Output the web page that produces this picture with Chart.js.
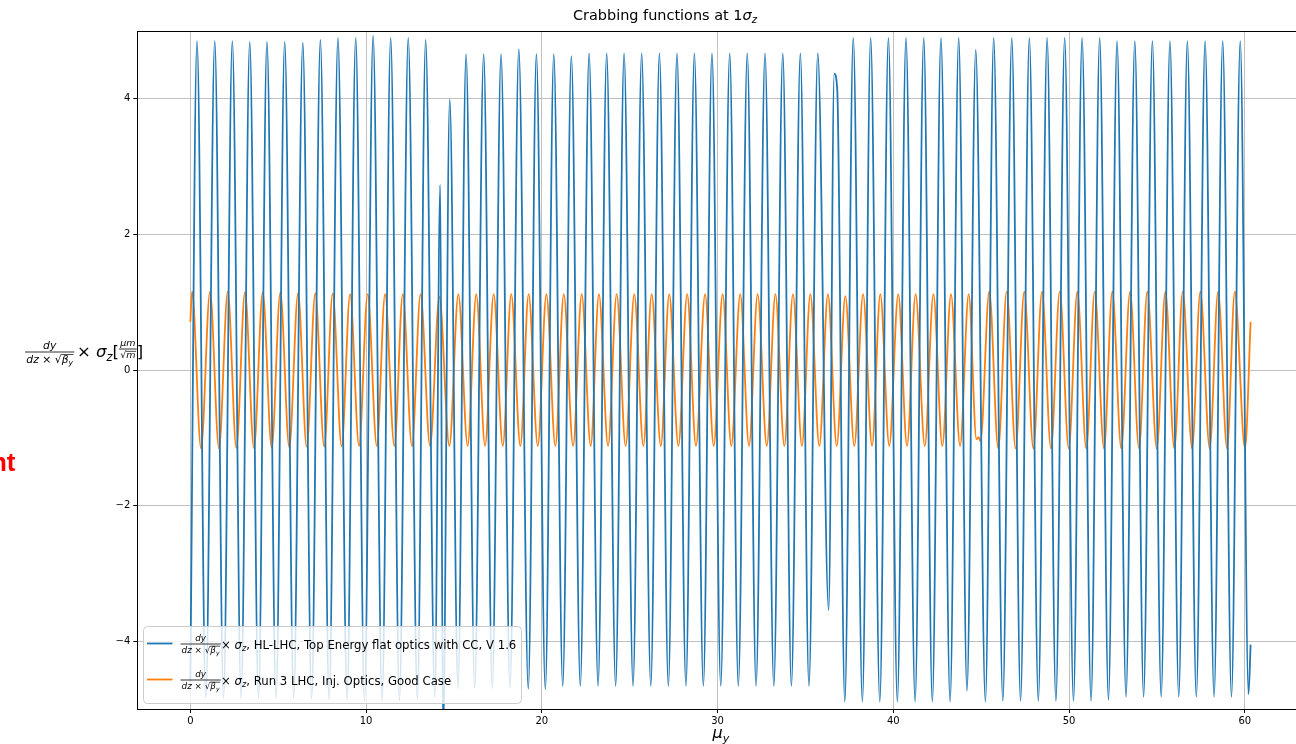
<!DOCTYPE html>
<html><head><meta charset="utf-8">
<script src="https://cdn.jsdelivr.net/npm/chart.js@4.4.1/dist/chart.umd.min.js"></script>
<style>html,body{margin:0;padding:0;background:#fff;overflow:hidden;width:1296px;height:744px}canvas{display:block}</style>
</head><body>
<canvas id="c" width="1310" height="744"></canvas>
<script>
// ---- data (extrema of each oscillation) ----
const blueMu = [
 0, 0.38, 0.88, 1.39, 1.89, 2.39, 2.89, 3.38, 3.88, 4.36,
 4.88, 5.37, 5.88, 6.40, 6.90, 7.40, 7.90, 8.40, 8.92, 9.41,
 9.91, 10.40, 10.91, 11.40, 11.90, 12.40, 12.92, 13.39, 13.91, 14.22,
 14.38, 14.76, 15.23, 15.69, 16.18, 16.69, 17.18, 17.68, 18.19, 18.69,
 19.23, 19.69, 20.20, 20.68, 21.19, 21.68, 22.19, 22.69, 23.20, 23.69,
 24.20, 24.68, 25.19, 25.68, 26.20, 26.69, 27.20, 27.69, 28.20, 28.68,
 29.19, 29.68, 30.18, 30.69, 31.18, 31.69, 32.19, 32.70, 33.20, 33.71,
 34.20, 34.71, 35.20, 35.70, 36.32, 36.64, 36.81, 37.24, 37.72, 38.24,
 38.71, 39.23, 39.72, 40.23, 40.72, 41.24, 41.73, 42.22, 42.71, 43.23,
 43.72, 44.19, 44.69, 45.24, 45.71, 46.23, 46.74, 47.24, 47.74, 48.25,
 48.75, 49.25, 49.75, 50.25, 50.74, 51.25, 51.74, 52.24, 52.73, 53.24,
 53.74, 54.24, 54.74, 55.24, 55.74, 56.24, 56.73, 57.24, 57.74, 58.25,
 58.74, 59.24, 59.74, 60.21, 60.33
];
const blueVal = [
 -4.6, 4.85, -4.84, 4.85, -4.84, 4.85, -4.84, 4.84, -4.84, 4.84,
 -4.84, 4.84, -4.84, 4.83, -4.85, 4.87, -4.86, 4.90, -4.87, 4.90,
 -4.88, 4.93, -4.88, 4.90, -4.87, 4.90, -4.86, 4.87, -4.82, 2.73,
 -5.4, 3.99, -4.70, 4.66, -4.69, 4.66, -4.69, 4.66, -4.69, 4.73,
 -4.70, 4.66, -4.71, 4.66, -4.66, 4.63, -4.66, 4.67, -4.66, 4.67,
 -4.66, 4.67, -4.66, 4.67, -4.66, 4.67, -4.66, 4.67, -4.66, 4.67,
 -4.66, 4.67, -4.66, 4.67, -4.66, 4.67, -4.66, 4.67, -4.66, 4.67,
 -4.66, 4.67, -4.66, 4.67, -3.54, 4.37, 4.13, -4.89, 4.90, -4.89,
 4.90, -4.89, 4.90, -4.89, 4.90, -4.89, 4.90, -4.89, 4.90, -4.89,
 4.90, -4.73, 4.72, -4.89, 4.90, -4.88, 4.90, -4.88, 4.90, -4.88,
 4.90, -4.88, 4.90, -4.88, 4.90, -4.88, 4.90, -4.86, 4.85, -4.82,
 4.85, -4.82, 4.85, -4.82, 4.85, -4.82, 4.85, -4.82, 4.85, -4.82,
 4.85, -4.82, 4.85, -4.78, -4.05
];
const orangeMu = [
 0, 0.10, 0.61, 1.12, 1.63, 2.13, 2.62, 3.11, 3.62, 4.12,
 4.63, 5.12, 5.63, 6.13, 6.62, 7.11, 7.62, 8.10, 8.61, 9.09,
 9.60, 10.09, 10.61, 11.08, 11.61, 12.09, 12.61, 13.10, 13.64, 14.17,
 14.74, 15.25, 15.78, 16.27, 16.77, 17.26, 17.78, 18.26, 18.78, 19.25,
 19.77, 20.26, 20.77, 21.25, 21.78, 22.27, 22.78, 23.25, 23.77, 24.26,
 24.77, 25.26, 25.78, 26.25, 26.77, 27.25, 27.77, 28.27, 28.77, 29.29,
 29.78, 30.29, 30.78, 31.29, 31.79, 32.28, 32.80, 33.29, 33.80, 34.29,
 34.80, 35.28, 35.79, 36.28, 36.78, 37.27, 37.78, 38.28, 38.79, 39.26,
 39.77, 40.28, 40.78, 41.27, 41.79, 42.28, 42.79, 43.28, 43.80, 44.29,
 44.73, 44.85, 44.96, 45.46, 45.97, 46.45, 46.96, 47.45, 47.97, 48.46,
 48.97, 49.47, 49.98, 50.47, 50.98, 51.46, 51.99, 52.46, 52.97, 53.47,
 53.98, 54.45, 54.99, 55.48, 55.99, 56.47, 57.00, 57.47, 58.00, 58.48,
 58.99, 59.43, 60.01, 60.33
];
const orangeVal = [
 0.71, 1.156, -1.156, 1.156, -1.156, 1.155, -1.15, 1.15, -1.15, 1.145,
 -1.145, 1.14, -1.14, 1.135, -1.13, 1.13, -1.13, 1.125, -1.125, 1.12,
 -1.12, 1.12, -1.12, 1.12, -1.12, 1.12, -1.12, 1.12, -1.12, 1.08,
 -1.12, 1.12, -1.12, 1.12, -1.12, 1.12, -1.12, 1.12, -1.12, 1.12,
 -1.12, 1.12, -1.12, 1.12, -1.12, 1.12, -1.12, 1.12, -1.12, 1.12,
 -1.12, 1.12, -1.12, 1.12, -1.12, 1.12, -1.12, 1.12, -1.12, 1.12,
 -1.12, 1.12, -1.12, 1.12, -1.12, 1.12, -1.12, 1.12, -1.12, 1.12,
 -1.12, 1.12, -1.12, 1.12, -1.12, 1.09, -1.12, 1.12, -1.12, 1.12,
 -1.12, 1.12, -1.12, 1.12, -1.12, 1.12, -1.12, 1.12, -1.12, 1.12,
 -1.02, -0.99, -1.05, 1.16, -1.156, 1.156, -1.156, 1.156, -1.156, 1.156,
 -1.156, 1.156, -1.156, 1.156, -1.156, 1.156, -1.156, 1.156, -1.156, 1.156,
 -1.156, 1.156, -1.156, 1.156, -1.156, 1.156, -1.156, 1.156, -1.156, 1.156,
 -1.156, 1.156, -1.156, 0.71
];
const xTicks = [0, 10, 20, 30, 40, 50, 60];
const xTickLabels = ['0', '10', '20', '30', '40', '50', '60'];
const yTicks = [-4, -2, 0, 2, 4];
const yTickLabels = ['\u22124', '\u22122', '0', '2', '4'];
const seriesNames = ['HL-LHC, Top Energy flat optics with CC, V 1.6', 'Run 3 LHC, Inj. Optics, Good Case'];
const seriesColors = ['#1f77b4', '#ff7f0e'];
const titleText = 'Crabbing functions at 1';

// ---- math-ish text helpers ----
const FF = '"DejaVu Sans", sans-serif';
function fnt(size, it) { return (it ? 'oblique ' : '') + size + 'px ' + FF; }
function runs(ctx, x, y, list, size, dry) {
  for (const r of list) {
    if (r.sqrt) {
      ctx.font = fnt(size, false);
      const sw = ctx.measureText('\u221A').width;
      if (!dry) ctx.fillText('\u221A', x, y);
      const ix = x + sw;
      const ex = runs(ctx, ix, y, r.sqrt, size, dry);
      if (!dry) ctx.fillRect(ix - 0.3, y - size * 0.78, ex - ix + 0.8, Math.max(0.7, size * 0.06));
      x = ex;
      continue;
    }
    const s = r.sub ? size * 0.7 : size;
    ctx.font = fnt(s, r.it);
    if (!dry) ctx.fillText(r.t, x, y + (r.sub ? size * 0.22 : 0));
    x += ctx.measureText(r.t).width;
  }
  return x;
}
function frac(ctx, x, barY, num, den, size, dry) {
  const wn = runs(ctx, 0, 0, num, size, true);
  const wd = runs(ctx, 0, 0, den, size, true);
  const w = Math.max(wn, wd) + size * 0.25;
  if (!dry) {
    runs(ctx, x + (w - wn) / 2, barY - size * 0.32, num, size);
    runs(ctx, x + (w - wd) / 2, barY + size * 0.98, den, size);
    ctx.fillRect(x, barY - 0.4, w, 0.8);
  }
  return x + w;
}
const NUM = [{t: 'dy', it: 1}];
const DEN = [{t: 'dz', it: 1}, {t: ' \u00D7 '}, {sqrt: [{t: '\u03B2', it: 1}, {t: 'y', it: 1, sub: 1}]}];

const textPlugin = {
  id: 'texts',
  afterDraw(chart) {
    const ctx = chart.ctx;
    const a = chart.chartArea;
    ctx.save();
    // spines
    ctx.strokeStyle = '#000';
    ctx.lineWidth = 1;
    ctx.strokeRect(Math.round(a.left) + 0.5, Math.round(a.top) + 0.5, Math.round(a.right - a.left), Math.round(a.bottom - a.top));
    ctx.fillStyle = '#000';
    ctx.textBaseline = 'alphabetic';
    ctx.textAlign = 'left';
    // title
    const tRuns = [{t: titleText}, {t: '\u03C3', it: 1}, {t: 'z', it: 1, sub: 1}];
    let ts = 14;
    const tw = runs(ctx, 0, 0, tRuns, ts, true);
    ts = ts * 184 / tw;
    runs(ctx, 573, 20, tRuns, ts);
    // x label
    runs(ctx, 712.5, 738, [{t: '\u03BC', it: 1}, {t: 'y', it: 1, sub: 1}], 16);
    // y label
    frac(ctx, 25, 352, NUM, DEN, 10.8);
    let yx = runs(ctx, 77, 357, [{t: '\u00D7 '}, {t: '\u03C3', it: 1}, {t: 'z', it: 1, sub: 1}, {t: '['}], 16.5);
    yx = frac(ctx, yx, 349, [{t: '\u03BCm', it: 1}], [{sqrt: [{t: 'm', it: 1}]}], 9.5);
    runs(ctx, yx, 357, [{t: ']'}], 16.5);
    // legend
    const lx = 143.5, ly = 626.5, lw = 378, lh = 77, rr = 4;
    ctx.beginPath();
    ctx.moveTo(lx + rr, ly);
    ctx.arcTo(lx + lw, ly, lx + lw, ly + lh, rr);
    ctx.arcTo(lx + lw, ly + lh, lx, ly + lh, rr);
    ctx.arcTo(lx, ly + lh, lx, ly, rr);
    ctx.arcTo(lx, ly, lx + lw, ly, rr);
    ctx.closePath();
    ctx.fillStyle = 'rgba(255,255,255,0.8)';
    ctx.fill();
    ctx.strokeStyle = '#cccccc';
    ctx.lineWidth = 1;
    ctx.stroke();
    const rowsY = [643.5, 679.5];
    const entryRuns = seriesNames.map(n => [{t: '\u00D7 '}, {t: '\u03C3', it: 1}, {t: 'z', it: 1, sub: 1}, {t: ', ' + n}]);
    let ls = 13;
    const lwid = runs(ctx, 0, 0, entryRuns[0], ls, true);
    ls = ls * (516.7 - 221) / lwid;
    rowsY.forEach((yy, i) => {
      ctx.strokeStyle = seriesColors[i];
      ctx.lineWidth = 1.8;
      ctx.beginPath();
      ctx.moveTo(147, yy);
      ctx.lineTo(172.5, yy);
      ctx.stroke();
      ctx.fillStyle = '#000';
      frac(ctx, 180.5, yy + 0.5, NUM, DEN, 8.8);
      runs(ctx, 221, yy + 5, entryRuns[i], ls);
    });
    // stray red text at the far left
    ctx.fillStyle = '#ff0000';
    ctx.font = 'bold 26px "Liberation Sans", Arial, sans-serif';
    ctx.textAlign = 'right';
    ctx.fillText('nt', 15.5, 470.5);
    ctx.restore();
  }
};

const tickFont = {family: '"DejaVu Sans", sans-serif', size: 10};
new Chart(document.getElementById('c').getContext('2d'), {
  type: 'line',
  data: {
    datasets: [
      {data: blueMu.map((x, i) => ({x: x, y: blueVal[i]})), borderColor: seriesColors[0], borderWidth: 1.8,
       pointRadius: 0, cubicInterpolationMode: 'monotone', fill: false, clip: 0},
      {data: orangeMu.map((x, i) => ({x: x, y: orangeVal[i]})), borderColor: seriesColors[1], borderWidth: 1.8,
       pointRadius: 0, cubicInterpolationMode: 'monotone', fill: false, clip: 0}
    ]
  },
  options: {
    responsive: false, animation: false, devicePixelRatio: 1,
    events: [],
    layout: {padding: {left: 0, right: 6.3, top: 31, bottom: 0}},
    plugins: {legend: {display: false}, tooltip: {enabled: false}, title: {display: false}},
    scales: {
      x: {
        type: 'linear', min: -3.017, max: 63.35,
        afterBuildTicks: s => { s.ticks = xTicks.map(v => ({value: v})); },
        afterFit: s => { s.height = 35; },
        ticks: {callback: v => xTickLabels[xTicks.indexOf(v)], font: tickFont, color: '#000', padding: 2, maxRotation: 0, autoSkip: false},
        grid: {color: '#b0b0b0', lineWidth: 0.8, tickColor: '#000', tickLength: 4, tickWidth: 1},
        border: {display: false}
      },
      y: {
        type: 'linear', min: -5, max: 5,
        afterBuildTicks: s => { s.ticks = yTicks.map(v => ({value: v})); },
        afterFit: s => { s.width = 137.3; },
        ticks: {callback: v => yTickLabels[yTicks.indexOf(v)], font: tickFont, color: '#000', padding: 3, autoSkip: false},
        grid: {color: '#b0b0b0', lineWidth: 0.8, tickColor: '#000', tickLength: 4, tickWidth: 1},
        border: {display: false}
      }
    }
  },
  plugins: [textPlugin]
});
</script>
</body></html>
